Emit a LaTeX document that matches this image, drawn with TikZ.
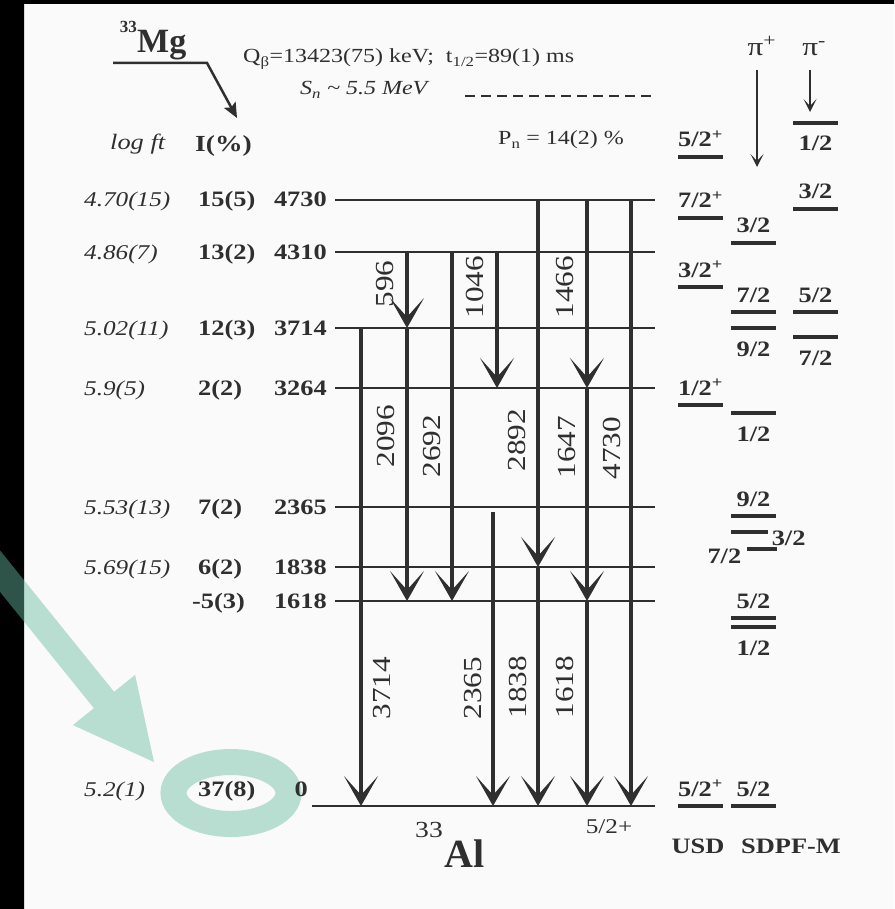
\documentclass[tikz,border=0pt]{standalone}
\usepackage{fontspec}
\setmainfont{Liberation Serif}[FakeStretch=1.2]
\newfontfamily\lsplain{Liberation Serif}
\usetikzlibrary{arrows.meta}
\definecolor{lsink}{HTML}{2F2F2F}
\definecolor{lsbg}{HTML}{FAFAFA}
\definecolor{lsteal}{HTML}{68BAA0}
\newcommand{\lsfs}[1]{\fontsize{#1}{#1}\selectfont}
\newcommand{\jpbar}[4]{%
  \draw[jpl] (#1,#2) -- ++(45,0) node[jptxt,pos=.5,anchor=base,yshift=#4] (jp#1x#2) {#3};}

\begin{document}
\begin{tikzpicture}[x=1pt,y=-1pt,
  every node/.style={text=lsink,inner sep=0pt},
  lvl/.style={lsink,line width=2.5pt},
  gam/.style={lsink,line width=3.2pt,-{Stealth[length=30pt,width=34pt,inset=19pt]}},
  gtxt/.style={font=\lsfs{26},rotate=90},
  jpl/.style={lsink,line width=3.5pt},
  jptxt/.style={font=\bfseries\lsfs{22}},
  piarr/.style={lsink,line width=2pt,-{Stealth[length=13pt,width=13pt,inset=7pt]}}]
  \useasboundingbox (0,0) rectangle (894,909);
  \fill[lsbg] (0,0) rectangle (894,909);
  \fill[black] (0,0) rectangle (24,909) (0,0) rectangle (894,4);
  % highlight
  \fill[lsteal,opacity=.45] (-23.9,520.8) -- (114.1,691.8) -- (135.1,674.9) -- (154,762)
    -- (72.9,725.1) -- (93.9,708.2) -- (-44.1,537.2) -- cycle;
  \draw[lsteal,opacity=.45,line width=26pt] (231,793) ellipse [x radius=57.5pt,y radius=31pt];
  % mother nucleus
  \node[font=\lsplain\bfseries\lsfs{34},anchor=base west] (mg) at (137,53) {Mg};
  \node[font=\lsplain\bfseries\lsfs{17},anchor=base east] (mgA) at (137,33) {33};
  \coordinate (mgL) at (113,63); \coordinate (mgK) at (207,63); \coordinate (mgT) at (237,118);
  \draw[lsink,line width=2.5pt,-{Stealth[length=15pt,width=13pt,inset=3pt]}] (mgL) -- (mgK) -- (mgT);
  \node[font=\lsfs{20},anchor=base west] (qb) at (243,63) {Q\textsubscript{β}=13423(75) keV;\ \ t\textsubscript{1/2}=89(1) ms};
  \node[font=\itshape\lsfs{20},anchor=base west] (sn) at (300,95) {S\textsubscript{n} \textasciitilde{} 5.5 MeV};
  \coordinate (snA) at (465,96); \coordinate (snB) at (655,96);
  \draw[lsink,line width=2pt,dash pattern=on 10pt off 6pt] (snA) -- (snB);
  \node[font=\lsfs{20},anchor=base west] (pn) at (498,145) {P\textsubscript{n} = 14(2) \%};
  \node[font=\itshape\lsfs{22},anchor=base west] (hlf) at (110,150) {log ft};
  \node[font=\bfseries\lsfs{23},anchor=base west] (hi) at (195,152) {I(\%)};
  % levels
  \foreach \lvy/\lvf/\lvi/\lvx/\lven in {200/4.70(15)/15(5)/198/4730,252/4.86(7)/13(2)/198/4310,
      328/5.02(11)/12(3)/198/3714,388/5.9(5)/2(2)/198/3264,507/5.53(13)/7(2)/198/2365,
      567/5.69(15)/6(2)/198/1838,601//-5(3)/192/1618}{%
    \coordinate (L\lven) at (335,\lvy);
    \draw[lvl] (L\lven) -- (655,\lvy);
    \node[font=\itshape\lsfs{21},anchor=base west] (lf\lven) at (84,\lvy+7) {\lvf};
    \node[font=\bfseries\lsfs{22},anchor=base west] (i\lven) at (\lvx,\lvy+7) {\lvi};
    \node[font=\bfseries\lsfs{22},anchor=base east] (e\lven) at (327,\lvy+7) {\lven};}
  \coordinate (L0) at (312,806);
  \draw[lvl] (L0) -- (655,806);
  \node[font=\itshape\lsfs{21},anchor=base west] (lf0) at (84,796) {5.2(1)};
  \node[font=\bfseries\lsfs{22},anchor=base west] (i0) at (198,796) {37(8)};
  \node[font=\bfseries\lsfs{22},anchor=base east] (e0) at (308,796) {0};
  % gamma rays
  \foreach \x/\a/\b/\g/\lx/\ly in {407/4310/3714/596/385/284,407/3714/1618/2096/386/436,
      452/4310/1618/2692/432/446,497/4310/3264/1046/475/287,538/4730/1838/2892/517/440,
      538/1838/0/1838/518/687,587/4730/3264/1466/565/287,587/3264/1618/1647/567/447,
      587/1618/0/1618/565/687,631/4730/0/4730/612/448,361/3714/0/3714/382/688}{%
    \draw[gam] (\x,0 |- L\a) -- (\x,0 |- L\b);
    \node[gtxt] (g\g) at (\lx,\ly) {\g};}
  \draw[gam] ([yshift=-5pt]493,0 |- L2365) -- (493,0 |- L0);
  \node[gtxt] (g2365) at (473,688) {2365};
  % shell model
  \node[font=\lsfs{26},anchor=base] (pip) at (762,56) {π\textsuperscript{+}};
  \node[font=\lsfs{26},anchor=base] (pim) at (814,56) {π\textsuperscript{-}};
  \coordinate (pipA) at (757,70); \coordinate (pipB) at (757,167);
  \coordinate (pimA) at (810,70); \coordinate (pimB) at (810,112);
  \draw[piarr] (pipA) -- (pipB); \draw[piarr] (pimA) -- (pimB);
  \jpbar{678}{157}{5/2\textsuperscript{+}}{10pt}
  \jpbar{678}{218}{7/2\textsuperscript{+}}{10pt}
  \jpbar{678}{287}{3/2\textsuperscript{+}}{10pt}
  \jpbar{678}{405}{1/2\textsuperscript{+}}{10pt}
  \jpbar{678}{806}{5/2\textsuperscript{+}}{10pt}
  \jpbar{731}{243}{3/2}{10pt}
  \jpbar{731}{312}{7/2}{10pt}
  \jpbar{731}{328}{9/2}{-28pt}
  \jpbar{731}{413}{1/2}{-28pt}
  \jpbar{731}{516}{9/2}{10pt}
  \jpbar{731}{618}{5/2}{10pt}
  \jpbar{731}{627}{1/2}{-28pt}
  \jpbar{731}{806}{5/2}{10pt}
  \jpbar{793}{123}{1/2}{-28pt}
  \jpbar{793}{209}{3/2}{10pt}
  \jpbar{793}{312}{5/2}{10pt}
  \jpbar{793}{337}{7/2}{-28pt}
  \draw[jpl] (731,532) -- (768,532) node[jptxt,anchor=base west,xshift=2pt,yshift=-13pt] (jp3h) {3/2};
  \draw[jpl] (777,549) -- (747,549) node[jptxt,anchor=base east,xshift=-4pt,yshift=-14pt] (jp7h) {7/2};
  % daughter
  \node[font=\lsfs{21},anchor=base] (gs) at (609,833) {5/2+};
  \node[font=\lsfs{23},anchor=base west] (alA) at (415,837) {33};
  \node[font=\lsplain\bfseries\lsfs{40},anchor=base west] (al) at (444,867) {Al};
  \node[font=\bfseries\lsfs{22},anchor=base] (usd) at (698,853) {USD};
  \node[font=\bfseries\lsfs{22},anchor=base] (sdpf) at (791,853) {SDPF-M};
\end{tikzpicture}
\end{document}
